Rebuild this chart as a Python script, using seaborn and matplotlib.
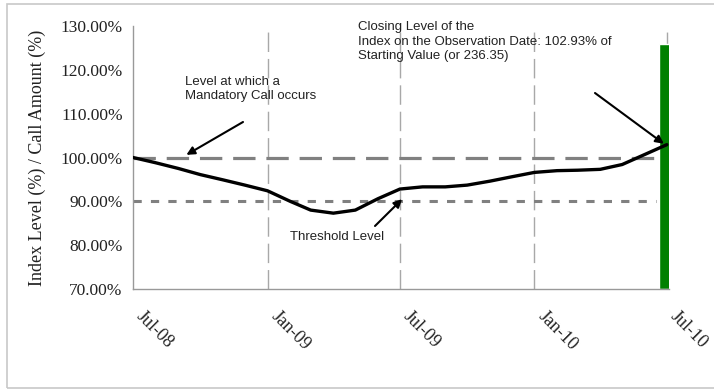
import matplotlib
matplotlib.use("Agg")
import matplotlib.pyplot as plt
import matplotlib.transforms as mtransforms
from matplotlib.patches import Rectangle
import seaborn as sns
import pandas as pd

# Monthly index level as % of starting value
months = pd.date_range("2008-07-01", "2010-07-01", freq="MS")
index_level = [100.0, 98.8, 97.5, 96.1, 94.9, 93.7, 92.4,
               90.0, 88.0, 87.3, 88.0, 90.6, 92.8,
               93.3, 93.3, 93.7, 94.6, 95.6, 96.6,
               97.0, 97.1, 97.3, 98.4, 100.7, 102.93]
call_level = 100.0
threshold_level = 90.0
observation_date = pd.Timestamp("2010-07-01")
call_amount = 126.0
closing_level = 102.93
tick_dates = pd.to_datetime(["2008-07-01", "2009-01-01", "2009-07-01",
                             "2010-01-01", "2010-07-01"])
tick_labels = ["Jul-08", "Jan-09", "Jul-09", "Jan-10", "Jul-10"]
y_ticks = [70, 80, 90, 100, 110, 120, 130]

df = pd.DataFrame({"date": months, "level": index_level})

sns.set_theme(style="white")
plt.rcParams["font.family"] = ["Liberation Serif", "DejaVu Serif"]

W, H = 714, 389
fig = plt.figure(figsize=(W / 100, H / 100), dpi=100)
fig.patches.append(Rectangle((7 / W, 0.002), 1.2, 0.989, transform=fig.transFigure,
                             fill=False, edgecolor="#c8c8c8", linewidth=1.2))
ax = fig.add_axes([133 / W, 1 - 289 / H, (669 - 133) / W, (289 - 26) / H])

# vertical date gridlines
for d in tick_dates[1:]:
    ax.axvline(d, color="#a8a8a8", linewidth=1.0, dashes=(14, 5), zorder=0)

ax.bar(observation_date - pd.Timedelta(days=3), call_amount - 70, bottom=70,
       width=14, color="#008000", zorder=2)
ax.axhline(call_level, color="#808080", linewidth=2.3, dashes=(7.0, 3.4), zorder=1,
           xmax=0.975)
ax.axhline(threshold_level, color="#808080", linewidth=2.2, dashes=(2.7, 3.0), zorder=1,
           xmax=0.975)
sns.lineplot(data=df, x="date", y="level", ax=ax, color="black", linewidth=2.4, zorder=3)

ax.set_xlim(pd.Timestamp("2008-07-01"), pd.Timestamp("2010-07-04"))
ax.set_ylim(70, 130)
ax.set_yticks(y_ticks)
ax.set_yticklabels([f"{v:.2f}%" for v in y_ticks], fontsize=12.5, color="#222222")

# slanted date labels, drawn just below and right of each tick
ax.set_xticks(tick_dates)
ax.set_xticklabels([])
shift = mtransforms.ScaledTranslation(12 / 100, -19 / 100, fig.dpi_scale_trans)
for d, lab in zip(tick_dates, tick_labels):
    ax.text(d, 0, lab, transform=ax.get_xaxis_transform() + shift, fontsize=13,
            color="#222222", rotation=-45, ha="left", va="top",
            rotation_mode="anchor", clip_on=False)

ax.set_xlabel("")
ax.set_ylabel("Index Level (%) / Call Amount (%)", fontsize=13, color="#222222",
              labelpad=10)
ax.tick_params(axis="both", length=4, width=0.8, color="#999999", direction="out")
for side in ["top", "right"]:
    ax.spines[side].set_visible(False)
for side in ["left", "bottom"]:
    ax.spines[side].set_color("#999999")
    ax.spines[side].set_linewidth(1.0)

sans = ["Liberation Sans", "DejaVu Sans"]
arrow = dict(arrowstyle="-|>", color="black", lw=1.5, mutation_scale=12,
             shrinkA=0, shrinkB=0)
ax.annotate("Level at which a\nMandatory Call occurs", xy=(pd.Timestamp("2008-09-10"), 100.5),
            xytext=(185, H - 76), textcoords="figure pixels", fontsize=9.5,
            family=sans, color="#222222", ha="left", va="top", linespacing=1.25)
ax.annotate("", xy=(pd.Timestamp("2008-09-12"), 100.6),
            xytext=(243, H - 122), textcoords="figure pixels", arrowprops=arrow)
ax.annotate("Threshold Level", xy=(pd.Timestamp("2009-07-01"), 90.5),
            xytext=(290, H - 237), textcoords="figure pixels", fontsize=9.5,
            family=sans, color="#222222", ha="left", va="center")
ax.annotate("", xy=(pd.Timestamp("2009-07-04"), 90.5),
            xytext=(375, H - 226), textcoords="figure pixels", arrowprops=arrow)
ax.annotate("Closing Level of the\nIndex on the Observation Date: 102.93% of\n"
            "Starting Value (or 236.35)", xy=(observation_date, closing_level),
            xytext=(358, H - 21), textcoords="figure pixels", fontsize=9.5,
            family=sans, color="#222222", ha="left", va="top", linespacing=1.3,
            annotation_clip=False)
ax.annotate("", xy=(observation_date - pd.Timedelta(days=4), closing_level + 0.2),
            xytext=(595, H - 93), textcoords="figure pixels", arrowprops=arrow,
            annotation_clip=False)

fig.savefig("out.png", dpi=100)
